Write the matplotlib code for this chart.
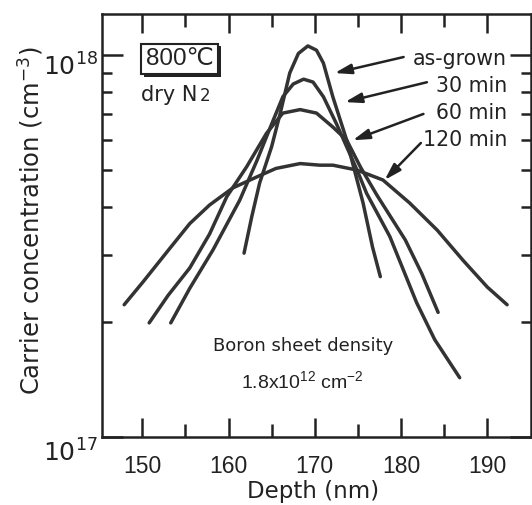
import numpy as np
import matplotlib
matplotlib.use("Agg")
import matplotlib.pyplot as plt
from matplotlib.ticker import FixedLocator, NullFormatter, LogLocator
import matplotlib.patheffects as pe
import matplotlib.transforms as mtransforms

plt.rcParams['font.family'] = ['DejaVu Sans']
plt.rcParams['mathtext.fontset'] = 'custom'
plt.rcParams['mathtext.rm'] = 'Liberation Sans'
plt.rcParams['mathtext.it'] = 'Liberation Sans'

NUM = ['Liberation Sans', 'DejaVu Sans']
WORD = ['DejaVu Sans']
TXT = '#222222'

# ---- data (depth in nm, concentration in units of 1e17 cm^-3) ----
asgrown_x = [161.8, 162.7, 163.6, 165.0, 166.0, 167.1, 168.1, 169.2, 170.2, 171.0, 172.1, 173.7, 174.4, 175.6, 176.7, 177.6]
asgrown_y = [3.03, 3.78, 4.62, 5.76, 7.05, 8.98, 10.1, 10.57, 10.3, 9.53, 7.77, 5.99, 5.2, 4.1, 3.14, 2.63]

min30_x = [153.3, 155.5, 158.2, 161.3, 163.3, 165.0, 166.3, 167.5, 168.7, 169.8, 171.0, 172.5, 174.9, 176.0, 178.7, 181.8, 183.9, 186.8]
min30_y = [1.99, 2.45, 3.09, 4.17, 5.3, 6.6, 7.78, 8.4, 8.65, 8.5, 7.78, 6.62, 5.0, 4.35, 3.35, 2.25, 1.80, 1.43]

min60_x = [150.8, 153.0, 155.5, 157.8, 159.8, 162.1, 164.4, 166.3, 168.3, 170.2, 172.1, 173.7, 175.3, 177.2, 180.5, 182.4, 184.3]
min60_y = [1.99, 2.35, 2.77, 3.4, 4.26, 5.1, 6.24, 7.05, 7.2, 7.05, 6.48, 5.99, 5.09, 4.3, 3.28, 2.68, 2.12]

min120_x = [147.9, 150.1, 153.2, 155.5, 157.8, 160.5, 163.3, 165.5, 168.3, 170.6, 172.1, 174.9, 177.9, 181.0, 184.2, 187.2, 190.0, 192.3]
min120_y = [2.22, 2.55, 3.12, 3.62, 4.05, 4.49, 4.80, 5.05, 5.2, 5.15, 5.15, 5.0, 4.71, 4.1, 3.48, 2.9, 2.47, 2.22]

series_labels = ['as-grown', '30 min', '60 min', '120 min']
xticks = [150, 160, 170, 180, 190]
xminor = [155, 165, 175, 185]

curves = [(asgrown_x, asgrown_y), (min30_x, min30_y), (min60_x, min60_y), (min120_x, min120_y)]

XLIM = (145.33, 195.07)
YLIM = (1e17, 10**18.109)

fig = plt.figure(figsize=(5.32, 5.05), dpi=100)
ax = fig.add_axes([102/532, 68/505, 429/532, 423.5/505])

line_color = '#333333'
for x, y in curves:
    ax.plot(x, np.array(y) * 1e17, color=line_color, lw=2.5, solid_capstyle='round')

ax.set_yscale('log')
ax.set_xlim(*XLIM)
ax.set_ylim(*YLIM)

ax.xaxis.set_major_locator(FixedLocator(xticks))
ax.xaxis.set_minor_locator(FixedLocator(xminor))
ax.yaxis.set_major_locator(FixedLocator([1e17, 1e18]))
ax.yaxis.set_minor_locator(LogLocator(base=10, subs=np.arange(2, 10)))
ax.yaxis.set_minor_formatter(NullFormatter())
ax.set_yticklabels([r'$\mathregular{10^{17}}$', r'$\mathregular{10^{18}}$'])
ax.set_xticklabels([str(v) for v in xticks], family=NUM)

ax.tick_params(axis='both', which='both', direction='in', top=True, right=True, width=1.8, colors=TXT)
ax.tick_params(axis='x', which='major', length=13.5, pad=13, labelsize=16.5)
ax.tick_params(axis='x', which='minor', length=9.5)
ax.tick_params(axis='y', which='major', length=15, pad=3, labelsize=18)
ax.tick_params(axis='y', which='minor', length=7)
for s in ax.spines.values():
    s.set_linewidth(1.8)
    s.set_color(TXT)

# shift the y tick labels down a little, as in the original
for lab, dy in zip(ax.get_yticklabels(), [-14, -9]):
    lab.set_transform(lab.get_transform() + mtransforms.ScaledTranslation(0, dy / 100, fig.dpi_scale_trans))

ax.set_xlabel('Depth (nm)', fontsize=16.5, color=TXT, family=WORD)
ax.set_ylabel(r'Carrier concentration (cm$^{\mathregular{-3}}$)', fontsize=17.5, color=TXT, family=WORD)
ax.xaxis.set_label_coords(0.493, -0.1015)
ax.yaxis.set_label_coords(-0.133, 0.51)

# annotations
t = ax.text(154.35, 10**17.99, '800℃', fontsize=17.5, ha='center', va='center', color=TXT, family=NUM,
            bbox=dict(boxstyle='square,pad=0.18', fc='white', ec=TXT, lw=1.5))
t.get_bbox_patch().set_path_effects([pe.SimplePatchShadow(offset=(2, -2), shadow_rgbFace=TXT, alpha=1.0), pe.Normal()])

y_dry = 10**17.881
t1 = ax.text(149.85, y_dry, 'dry N', fontsize=15, ha='left', va='baseline', color=TXT, family=WORD)
fig.canvas.draw()
w_pts = t1.get_window_extent(fig.canvas.get_renderer()).width * 72 / fig.dpi
ax.annotate('2', xy=(149.85, y_dry), xycoords='data', xytext=(w_pts + 1.5, 0), textcoords='offset points',
            fontsize=12, ha='left', va='baseline', color=TXT, family=WORD)

label_y = [10**17.990, 10**17.919, 10**17.848, 10**17.777]
for lab, ly in zip(series_labels, label_y):
    ax.text(192.3, ly, lab, fontsize=14.8, ha='right', va='center', color=TXT, family=WORD)

arrows = [((180.3, 10**17.995), (172.3, 10**17.953)),
          ((183.0, 10**17.929), (173.5, 10**17.877)),
          ((182.6, 10**17.846), (174.4, 10**17.777)),
          ((182.3, 10**17.770), (178.1, 10**17.673))]
for tail, head in arrows:
    ax.annotate('', xy=head, xytext=tail,
                arrowprops=dict(arrowstyle='-|>,head_length=1.0,head_width=0.3', lw=1.8, color=TXT,
                                shrinkA=0, shrinkB=0))

ax.text(168.6, 10**17.237, 'Boron sheet density', fontsize=13, ha='center', va='center', color=TXT, family=WORD)
ax.text(168.6, 10**17.145, r'1.8x10$^{\mathregular{12}}$ cm$^{\mathregular{-2}}$', fontsize=14,
        ha='center', va='center', color=TXT, family=NUM)

# make sure the top tick marks are shown
ax.xaxis.set_ticks_position('both')
ax.xaxis.set_tick_params(which='both', top=True, direction='in')
fig.canvas.draw()
for tk in ax.xaxis.get_major_ticks() + ax.xaxis.get_minor_ticks():
    tk.tick2line.set_visible(True)

fig.savefig('out.png', dpi=100)
